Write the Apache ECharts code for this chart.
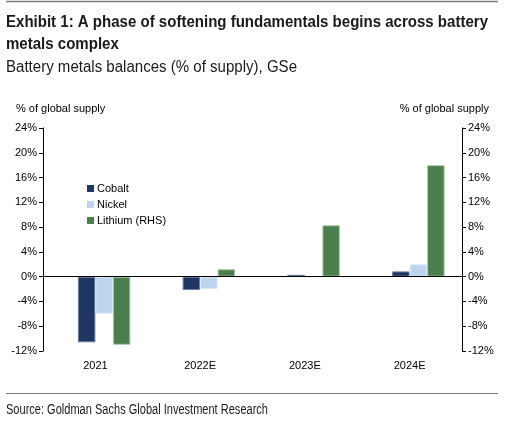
<!DOCTYPE html>
<html>
<head>
<meta charset="utf-8">
<script src="https://cdn.jsdelivr.net/npm/echarts@6/dist/echarts.min.js"></script>
<style>
  * { margin: 0; padding: 0; }
  body { background: #fff; }
</style>
</head>
<body>
<div id="chart" style="width:514px;height:434px;"></div>
<script>
// data
const years = ["2021", "2022E", "2023E", "2024E"];
const cobalt = [-10.6, -2.15, 0.3, 0.85];
const nickel = [-6.0, -2.0, 0, 2.0];
const lithium = [-11.0, 1.2, 8.3, 18.0]; // right hand scale
const yTicks = { min: -12, max: 24, step: 4 };

const sans = "'Liberation Sans', Arial, sans-serif";

// the report uses a condensed face, not installed here: squeeze Liberation Sans to the same width
const ctx = document.createElement("canvas").getContext("2d");
function squeeze(text, font, width) {
  ctx.font = font;
  return width / ctx.measureText(text).width;
}
const titleFont = "bold 17px " + sans;
const line1 = "Exhibit 1: A phase of softening fundamentals begins across battery";
const titleScale = squeeze(line1, titleFont, 482);
const subFont = "16px " + sans;
const subText = "Battery metals balances (% of supply), GSe";
const srcFont = "14px " + sans;
const srcText = "Source: Goldman Sachs Global Investment Research";

function label(text, font, size, scale, baseline) {
  return {
    type: "text", x: 6, y: baseline - 0.35 * size, scaleX: scale,
    style: { text: text, font: font, fill: "#1a1a1a", textVerticalAlign: "middle", verticalAlign: "middle" }
  };
}

const chart = echarts.init(document.getElementById("chart"));

const valueAxis = (pos) => ({
  type: "value",
  position: pos,
  min: yTicks.min,
  max: yTicks.max,
  interval: yTicks.step,
  splitLine: { show: false },
  axisLine: { show: true, lineStyle: { color: "#000", width: 1 } },
  axisTick: { show: true, length: 4, lineStyle: { color: "#000" } },
  axisLabel: {
    color: "#000",
    fontSize: 11,
    fontFamily: sans,
    margin: 6,
    formatter: "{value}%"
  }
});

const barStyle = (color, border) => ({
  type: "bar",
  barWidth: 17.5,
  barGap: "0%",
  itemStyle: { color: color, borderColor: border, borderWidth: 1 }
});

const option = {
  animation: false,
  backgroundColor: "#fff",
  graphic: [
    { type: "line", shape: { x1: 6, y1: 1.5, x2: 498, y2: 1.5 }, style: { stroke: "#808080", lineWidth: 1.5 } },
    { type: "line", shape: { x1: 6, y1: 393.5, x2: 498, y2: 393.5 }, style: { stroke: "#808080", lineWidth: 1 } },
    label(line1, titleFont, 17, titleScale, 28.5),
    label("metals complex", titleFont, 17, titleScale, 50),
    label(subText, subFont, 16, squeeze(subText, subFont, 291), 73),
    label(srcText, srcFont, 14, squeeze(srcText, srcFont, 262), 415),
    { type: "text", left: 16, top: 103, style: { text: "% of global supply", font: "11px " + sans, fill: "#000" } },
    { type: "text", right: 25, top: 103, style: { text: "% of global supply", font: "11px " + sans, fill: "#000" } }
  ],
  legend: {
    orient: "vertical",
    left: 82, top: 178,
    itemWidth: 7, itemHeight: 7,
    itemGap: 5,
    icon: "rect",
    itemStyle: { borderWidth: 0 },
    data: ["Cobalt", "Nickel", "Lithium (RHS)"],
    textStyle: { fontFamily: sans, fontSize: 11, color: "#000", padding: [0, 0, 0, -2] }
  },
  grid: { left: 43, right: 52, top: 128, bottom: 83 },
  xAxis: {
    type: "category",
    data: years,
    axisLine: { show: false },
    axisTick: { show: false },
    axisLabel: { color: "#000", fontSize: 11, fontFamily: sans, margin: 9 }
  },
  yAxis: [valueAxis("left"), valueAxis("right")],
  series: [
    // empty slot that Excel leaves for the secondary series on the primary axis
    Object.assign(barStyle("#fff", "transparent"), { name: "", data: years.map(() => null), yAxisIndex: 0, legendHoverLink: false }),
    Object.assign(barStyle("#1f3660", "#6c7f9f"), {
      name: "Cobalt", data: cobalt, yAxisIndex: 0,
      markLine: {
        silent: true, symbol: "none", label: { show: false },
        lineStyle: { color: "#000", type: "solid", width: 1 },
        data: [{ yAxis: 0 }]
      }
    }),
    Object.assign(barStyle("#bcd4ee", "#dde9f6"), { name: "Nickel", data: nickel, yAxisIndex: 0 }),
    Object.assign(barStyle("#4a7f4d", "#a9c9aa"), { name: "Lithium (RHS)", data: lithium, yAxisIndex: 1, z: 3 })
  ]
};

chart.setOption(option);
</script>
</body>
</html>
